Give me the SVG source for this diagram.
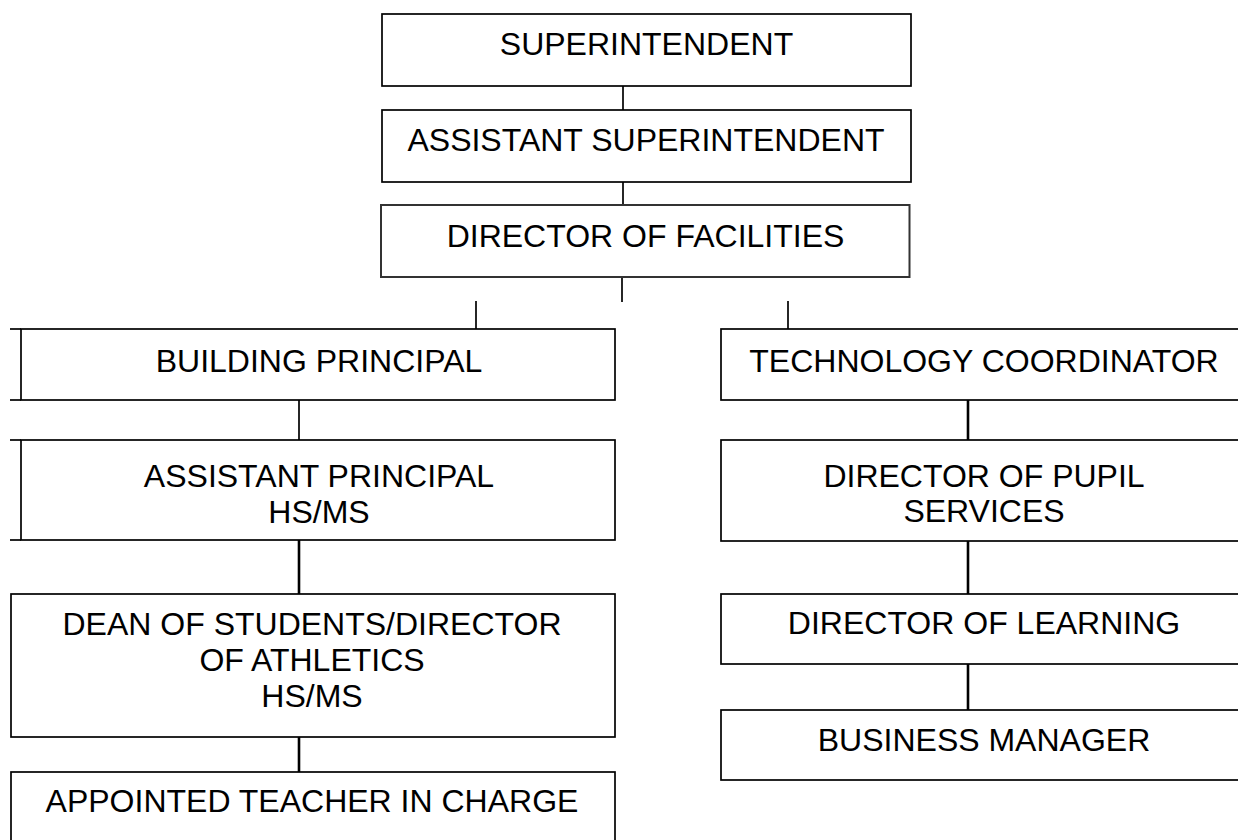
<svg xmlns="http://www.w3.org/2000/svg" width="1238" height="840" viewBox="0 0 1238 840">
<style>
.box{fill:#fff;stroke:#000;stroke-width:1.7}
.box2{fill:#fff;stroke:#333;stroke-width:2}
.ext{stroke:#000;stroke-width:1.7;fill:none}
.t{font-family:"Liberation Sans",Arial,sans-serif;font-size:32px;fill:#000;text-anchor:middle}
.c{stroke:#000;stroke-width:1.7;fill:none}
.c2{stroke:#000;stroke-width:2.6;fill:none}
</style>
<rect width="1238" height="840" fill="#fff"/>
<g id="connectors">
<line class="c" x1="623" y1="86" x2="623" y2="110"/>
<line class="c" x1="623" y1="182" x2="623" y2="205"/>
<line class="c" x1="622" y1="277" x2="622" y2="302"/>
<line class="c" x1="476" y1="301" x2="476" y2="329"/>
<line class="c" x1="788" y1="301" x2="788" y2="329"/>
<line class="c" x1="299" y1="400" x2="299" y2="440"/>
<line class="c2" x1="299" y1="540" x2="299" y2="594"/>
<line class="c2" x1="299" y1="737" x2="299" y2="772"/>
<line class="c2" x1="968" y1="400" x2="968" y2="440"/>
<line class="c2" x1="968" y1="541" x2="968" y2="594"/>
<line class="c2" x1="968" y1="664" x2="968" y2="710"/>
</g>
<g id="superintendent">
<rect class="box" x="382" y="14" width="529" height="72"/>
<text class="t" x="646.5" y="55">SUPERINTENDENT</text>
</g>
<g id="assistant-superintendent">
<rect class="box" x="382" y="110" width="529" height="72"/>
<text class="t" x="646" y="151">ASSISTANT SUPERINTENDENT</text>
</g>
<g id="director-of-facilities">
<rect class="box2" x="381" y="205" width="528.5" height="72"/>
<text class="t" x="645.5" y="247">DIRECTOR OF FACILITIES</text>
</g>
<g id="building-principal">
<rect class="box" x="21" y="329" width="594" height="71"/>
<line class="ext" x1="10" y1="329" x2="21" y2="329"/>
<line class="ext" x1="10" y1="400" x2="21" y2="400"/>
<text class="t" x="319" y="372">BUILDING PRINCIPAL</text>
</g>
<g id="assistant-principal">
<rect class="box" x="21" y="440" width="594" height="100"/>
<line class="ext" x1="10" y1="440" x2="21" y2="440"/>
<line class="ext" x1="10" y1="540" x2="21" y2="540"/>
<text class="t" x="319" y="487">ASSISTANT PRINCIPAL</text>
<text class="t" x="319" y="523">HS/MS</text>
</g>
<g id="dean-of-students">
<rect class="box" x="11" y="594" width="604" height="143"/>
<text class="t" x="312" y="635">DEAN OF STUDENTS/DIRECTOR</text>
<text class="t" x="312" y="671">OF ATHLETICS</text>
<text class="t" x="312" y="707">HS/MS</text>
</g>
<g id="appointed-teacher">
<rect class="box" x="11" y="772" width="604" height="80"/>
<text class="t" x="312" y="812">APPOINTED TEACHER IN CHARGE</text>
</g>
<g id="technology-coordinator">
<rect class="box" x="721" y="329" width="526" height="71"/>
<text class="t" x="984" y="372">TECHNOLOGY COORDINATOR</text>
</g>
<g id="director-of-pupil-services">
<rect class="box" x="721" y="440" width="526" height="101"/>
<text class="t" x="984" y="487">DIRECTOR OF PUPIL</text>
<text class="t" x="984" y="522">SERVICES</text>
</g>
<g id="director-of-learning">
<rect class="box" x="721" y="594" width="526" height="70"/>
<text class="t" x="984" y="634">DIRECTOR OF LEARNING</text>
</g>
<g id="business-manager">
<rect class="box" x="721" y="710" width="526" height="70"/>
<text class="t" x="984" y="751">BUSINESS MANAGER</text>
</g>
</svg>
